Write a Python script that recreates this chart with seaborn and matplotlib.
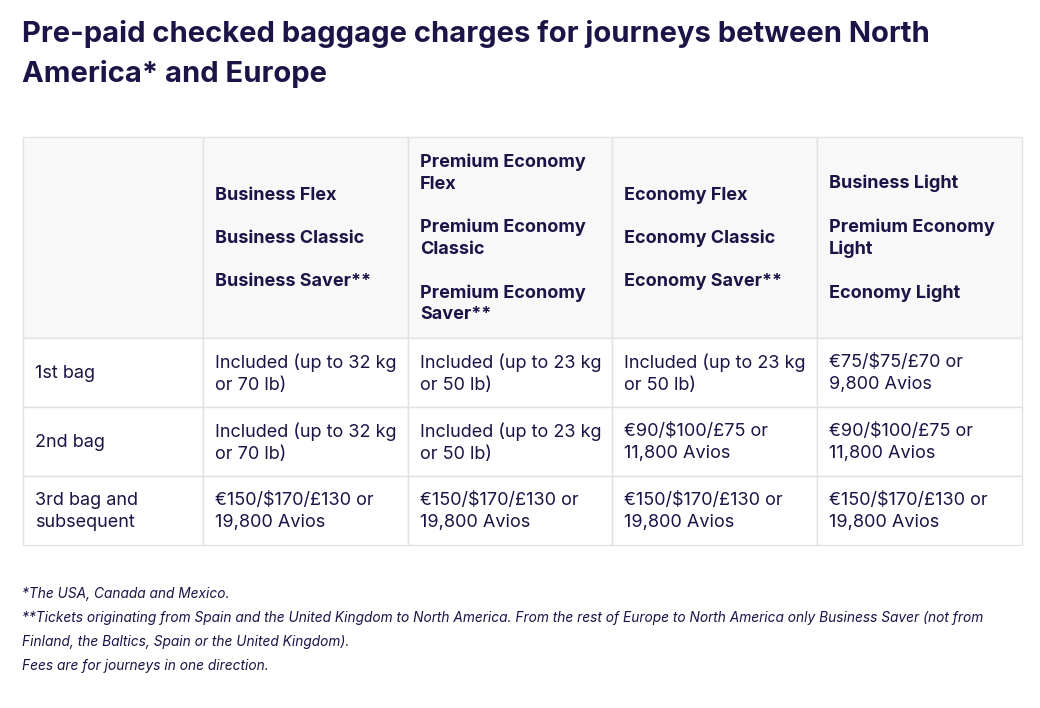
import matplotlib
matplotlib.use("Agg")
import matplotlib.pyplot as plt
import seaborn as sns
from matplotlib.patches import Rectangle

sns.set_theme(style="white")
plt.rcParams['font.family'] = ['Inter', 'DejaVu Sans']

title = "Pre-paid checked baggage charges for journeys between North\nAmerica* and Europe"
headers = [
    "",
    "Business Flex\n\nBusiness Classic\n\nBusiness Saver**",
    "Premium Economy\nFlex\n\nPremium Economy\nClassic\n\nPremium Economy\nSaver**",
    "Economy Flex\n\nEconomy Classic\n\nEconomy Saver**",
    "Business Light\n\nPremium Economy\nLight\n\nEconomy Light",
]
row_labels = ["1st bag", "2nd bag", "3rd bag and\nsubsequent"]
cells = [
    ["Included (up to 32 kg\nor 70 lb)", "Included (up to 23 kg\nor 50 lb)",
     "Included (up to 23 kg\nor 50 lb)", "€75/$75/£70 or\n9,800 Avios"],
    ["Included (up to 32 kg\nor 70 lb)", "Included (up to 23 kg\nor 50 lb)",
     "€90/$100/£75 or\n11,800 Avios", "€90/$100/£75 or\n11,800 Avios"],
    ["€150/$170/£130 or\n19,800 Avios"] * 4,
]
footnotes = [
    "*The USA, Canada and Mexico.",
    "**Tickets originating from Spain and the United Kingdom to North America. From the rest of Europe to North America only Business Saver (not from",
    "Finland, the Baltics, Spain or the United Kingdom).",
    "Fees are for journeys in one direction.",
]

navy = "#1b1446"
grid = "#e2e2e2"
col_edges = [23, 203, 408, 612, 817, 1022]
row_edges = [137, 338, 407, 476, 545]

fig = plt.figure(figsize=(10.4, 7.08), dpi=100)
ax = fig.add_axes([0, 0, 1, 1])
ax.set_xlim(0, 1040)
ax.set_ylim(708, 0)
ax.axis("off")

ax.text(22, 54, title, fontsize=21, fontweight="bold", color=navy,
        va="center", ha="left", linespacing=1.5)

for r in range(len(row_edges) - 1):
    for c in range(len(col_edges) - 1):
        x0, x1 = col_edges[c], col_edges[c + 1]
        y0, y1 = row_edges[r], row_edges[r + 1]
        ax.add_patch(Rectangle((x0, y0), x1 - x0, y1 - y0,
                               facecolor="#f8f8f8" if r == 0 else "white",
                               edgecolor=grid, linewidth=1))
        if r == 0:
            txt, weight = headers[c], "bold"
        elif c == 0:
            txt, weight = row_labels[r - 1], "normal"
        else:
            txt, weight = cells[r - 1][c - 1], "normal"
        ax.text(x0 + 12, (y0 + y1) / 2 + 1, txt, fontsize=13,
                fontweight=weight, color=navy, va="center", ha="left",
                linespacing=1.35)

for i, line in enumerate(footnotes):
    ax.text(22, 594 + i * 24, line, fontsize=9.9, style="italic",
            color=navy, va="center", ha="left")

fig.savefig("out.png", dpi=100)
